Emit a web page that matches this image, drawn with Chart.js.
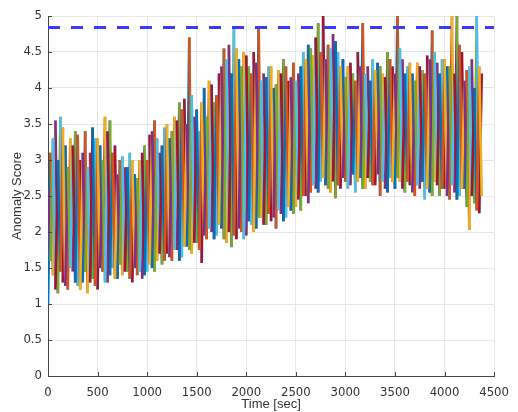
<!DOCTYPE html>
<html>
<head>
<meta charset="utf-8">
<script src="https://cdn.jsdelivr.net/npm/chart.js@4/dist/chart.umd.min.js"></script>
<style>
  html, body { margin: 0; padding: 0; background: #fff; }
  #wrap { width: 518px; height: 412px; position: relative; }
</style>
</head>
<body>
<div id="wrap"><canvas id="c" width="518" height="412"></canvas></div>
<script>
// Series A: troughs at sec 0, 50, ... 4350 ; peaks at sec 25, 75, ... 4375
const troughsA = [
  1.0, 1.4, 1.15, 1.3, 1.2, 1.45, 1.25, 1.3, 1.15, 1.35,
  1.2, 1.45, 1.3, 1.5, 1.35, 1.4, 1.45, 1.3, 1.4, 1.35,
  1.45, 1.5, 1.6, 1.55, 1.7, 1.6, 1.75, 1.65, 1.8, 1.7,
  1.85, 1.57, 1.9, 2.0, 1.95, 2.05, 1.85, 1.79, 1.9, 2.0,
  1.95, 2.1, 2.05, 2.2, 2.1, 2.15, 2.05, 2.25, 2.2, 2.3,
  2.35, 2.3, 2.5, 2.55, 2.6, 2.7, 2.65, 2.55, 2.47, 2.6,
  2.7, 2.65, 2.55, 2.75, 2.6, 2.7, 2.65, 2.5, 2.6, 2.75,
  2.6, 2.7, 2.55, 2.65, 2.5, 2.6, 2.45, 2.55, 2.7, 2.5,
  2.6, 2.45, 2.55, 2.5, 2.6, 2.03, 2.4, 2.26
];
const peaksA = [
  3.1, 3.55, 3.6, 3.2, 3.3, 3.4, 3.0, 3.4, 3.1, 3.3,
  3.2, 3.6, 3.55, 3.2, 3.0, 2.9, 3.1, 2.8, 3.0, 3.2,
  3.35, 3.55, 3.1, 3.45, 3.3, 3.6, 3.8, 3.85, 4.7, 3.6,
  3.4, 4.0, 4.1, 3.8, 4.2, 4.55, 4.6, 4.85, 4.4, 4.5,
  4.3, 4.5, 4.85, 4.2, 4.3, 4.0, 4.25, 4.4, 4.1, 4.35,
  4.2, 4.5, 4.6, 4.45, 4.9, 5.0, 4.6, 4.75, 4.5, 4.4,
  4.3, 4.2, 4.5, 4.9, 4.3, 4.4, 4.35, 4.2, 4.5, 4.3,
  5.0, 4.4, 4.3, 4.2, 4.35, 4.25, 4.45, 4.8, 4.35, 4.4,
  4.3, 5.0, 5.0, 4.5, 4.25, 4.4, 5.0, 4.2
];
// Series B: peaks at sec 0, 50, ... 4350 ; troughs at sec 25, 75, ... 4375
const peaksB = [
  2.6, 3.3, 3.0, 3.45, 2.9, 3.2, 3.35, 3.1, 2.9, 3.45,
  3.3, 3.0, 3.4, 3.1, 2.8, 3.05, 2.9, 3.0, 2.75, 3.1,
  3.0, 3.4, 3.3, 3.2, 3.5, 3.4, 3.55, 3.7, 3.5, 3.9,
  3.7, 3.8, 3.6, 4.05, 3.9, 4.3, 4.4, 4.2, 4.55, 4.3,
  4.45, 4.2, 4.35, 4.1, 4.15, 4.3, 4.05, 4.2, 4.3, 4.15,
  4.1, 4.3, 4.4, 4.55, 4.7, 4.5, 4.4, 4.55, 4.65, 4.3,
  4.15, 4.35, 4.1, 4.3, 4.2, 4.1, 4.25, 4.3, 4.15, 4.4,
  4.2, 4.55, 4.2, 4.35, 4.1, 4.3, 4.2, 4.4, 4.5, 4.2,
  4.4, 4.3, 4.2, 4.6, 4.1, 4.3, 4.0, 4.3
];
const troughsB = [
  1.6, 1.2, 1.45, 1.25, 1.5, 1.3, 1.2, 1.45, 1.3, 1.25,
  1.5, 1.3, 1.4, 1.35, 1.55, 1.45, 1.35, 1.5, 1.45, 1.4,
  1.55, 1.45, 1.7, 1.6, 1.65, 1.75, 1.6, 1.8, 1.75, 1.85,
  1.75, 1.95, 2.05, 1.9, 2.1, 1.9, 2.0, 1.95, 2.05, 1.9,
  2.15, 2.0, 2.2, 2.1, 2.25, 2.2, 2.3, 2.15, 2.35, 2.25,
  2.45, 2.5, 2.4, 2.65, 2.55, 2.75, 2.6, 2.7, 2.65, 2.75,
  2.6, 2.8, 2.7, 2.6, 2.75, 2.65, 2.8, 2.7, 2.55, 2.7,
  2.75, 2.6, 2.7, 2.55, 2.65, 2.7, 2.6, 2.5, 2.65, 2.6,
  2.5, 2.65, 2.45, 2.6, 2.35, 2.5, 2.3, 2.5
];
const stepSec = 50, halfStepSec = 25;
const threshold = 4.84;
const xTicks = [0, 500, 1000, 1500, 2000, 2500, 3000, 3500, 4000, 4500];
const yTicks = [0, 0.5, 1, 1.5, 2, 2.5, 3, 3.5, 4, 4.5, 5];
const lineColors = ['#0072BD', '#D95319', '#EDB120', '#7E2F8E', '#77AC30', '#4DBEEE', '#A2142F'];

function zigzag(first, second) {
  const pts = [];
  for (let i = 0; i < first.length; i++) {
    pts.push({ x: i * stepSec, y: first[i] });
    if (i < second.length) pts.push({ x: i * stepSec + halfStepSec, y: second[i] });
  }
  return pts;
}
const seriesA = zigzag(troughsA, peaksA);
const seriesB = zigzag(peaksB, troughsB);

const FONT = '"Liberation Sans Narrow", "DejaVu Sans Condensed", sans-serif';
const TITLE_FONT = '"Liberation Sans", Arial, sans-serif';

const inwardTicks = {
  id: 'inwardTicks',
  afterDatasetsDraw(chart) {
    const { ctx, chartArea, scales } = chart;
    ctx.save();
    ctx.strokeStyle = '#444';
    ctx.lineWidth = 1;
    ctx.beginPath();
    yTicks.forEach(v => {
      const y = Math.round(scales.y.getPixelForValue(v)) + 0.5;
      ctx.moveTo(chartArea.left, y); ctx.lineTo(chartArea.left + 4, y);
    });
    xTicks.forEach(v => {
      const x = Math.round(scales.x.getPixelForValue(v)) + 0.5;
      ctx.moveTo(x, chartArea.bottom); ctx.lineTo(x, chartArea.bottom - 4);
    });
    ctx.stroke();
    ctx.restore();
  }
};

function lineSet(points, colorShift, order) {
  return {
    data: points,
    borderWidth: 2.6,
    borderCapStyle: 'butt',
    pointRadius: 0,
    tension: 0,
    borderColor: lineColors[colorShift],
    segment: { borderColor: c => lineColors[(c.p0DataIndex + colorShift) % lineColors.length] },
    order: order
  };
}

new Chart(document.getElementById('c'), {
  type: 'line',
  data: {
    datasets: [
      lineSet(seriesA, 0, 3),
      lineSet(seriesB, 3, 2),
      {
        data: [{ x: 0, y: threshold }, { x: 4500, y: threshold }],
        borderColor: '#3a3aff',
        borderWidth: 3,
        borderDash: [12, 11],
        borderDashOffset: 0,
        pointRadius: 0,
        order: 1
      }
    ]
  },
  options: {
    responsive: false,
    animation: false,
    layout: { padding: { top: 16, right: 13, left: 0, bottom: 0 } },
    plugins: { legend: { display: false }, tooltip: { enabled: false } },
    scales: {
      x: {
        type: 'linear', min: 0, max: 4500,
        afterBuildTicks: s => { s.ticks = xTicks.map(v => ({ value: v })); },
        afterFit: s => { s.height = 36; },
        grid: { color: '#e6e6e6', drawTicks: false },
        border: { color: '#444', width: 1 },
        ticks: { color: '#333', font: { family: FONT, size: 13 }, padding: 9, maxRotation: 0,
                 callback: v => String(v) },
        title: { display: true, text: 'Time [sec]', color: '#333', font: { family: TITLE_FONT, size: 13 }, padding: { top: 3, bottom: 0 } }
      },
      y: {
        min: 0, max: 5,
        afterBuildTicks: s => { s.ticks = yTicks.map(v => ({ value: v })); },
        afterFit: s => { s.width = 48; },
        grid: { color: '#e6e6e6', drawTicks: false },
        border: { color: '#444', width: 1 },
        ticks: { color: '#333', font: { family: FONT, size: 13 }, padding: 6,
                 callback: v => String(v) },
        title: { display: true, text: 'Anomaly Score', color: '#333', font: { family: TITLE_FONT, size: 13 }, padding: { top: 10, bottom: 0 } }
      }
    }
  },
  plugins: [inwardTicks]
});
</script>
</body>
</html>
